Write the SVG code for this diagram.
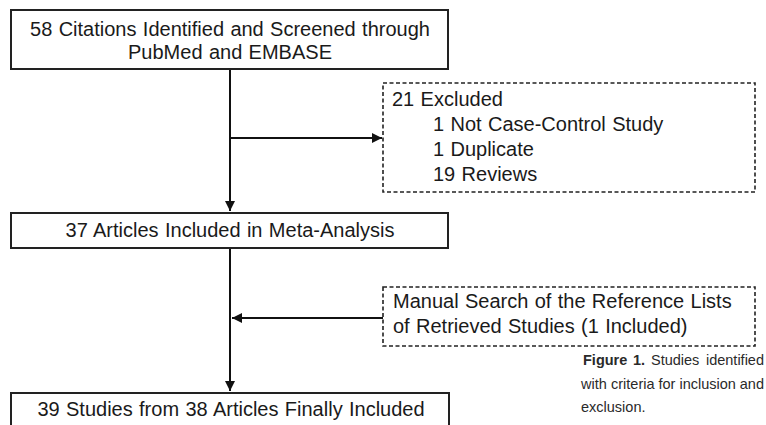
<svg xmlns="http://www.w3.org/2000/svg" width="766" height="425" viewBox="0 0 766 425">
<defs>
<style>
.box{fill:#fff;stroke:#222;stroke-width:2}
.dash{fill:#fff;stroke:#222;stroke-width:1.6;stroke-dasharray:4 2.5}
.t{font-family:"Liberation Sans",Arial,sans-serif;font-size:20px;fill:#1a1a1a;word-spacing:0.8px}
.c{text-anchor:middle}
.cap{font-family:"Liberation Sans",Arial,sans-serif;font-size:14.5px;fill:#2a2a2a}
.b{font-weight:bold}
.e{text-anchor:end}
.line{stroke:#111;stroke-width:2;fill:none}
</style>
<marker id="ah" viewBox="0 0 10 10" refX="10" refY="5" markerWidth="5" markerHeight="5" orient="auto" markerUnits="strokeWidth">
<path d="M0,0 L10,5 L0,10 z" fill="#111"/>
</marker>
</defs>
<rect width="766" height="425" fill="#fff"/>
<g id="connectors">
<line class="line" x1="230" y1="69" x2="230" y2="211" marker-end="url(#ah)"/>
<line class="line" x1="230" y1="138" x2="382" y2="138" marker-end="url(#ah)"/>
<line class="line" x1="230" y1="248" x2="230" y2="391" marker-end="url(#ah)"/>
<line class="line" x1="383" y1="318" x2="232" y2="318" marker-end="url(#ah)"/>
</g>
<g id="n1">
<rect class="box" x="11" y="10" width="437" height="59"/>
<text class="t c" x="230" y="36">58 Citations Identified and Screened through</text>
<text class="t c" x="230" y="59">PubMed and EMBASE</text>
</g>
<g id="n2">
<rect class="dash" x="383" y="83" width="372" height="109"/>
<text class="t" x="392" y="106">21 Excluded</text>
<text class="t" x="433" y="131">1 Not Case-Control Study</text>
<text class="t" x="433" y="156">1 Duplicate</text>
<text class="t" x="433" y="181">19 Reviews</text>
</g>
<g id="n3">
<rect class="box" x="11" y="213" width="437" height="35"/>
<text class="t c" x="230" y="237">37 Articles Included in Meta-Analysis</text>
</g>
<g id="n4">
<rect class="dash" x="383" y="287" width="372" height="59"/>
<text class="t" x="393" y="308">Manual Search of the Reference Lists</text>
<text class="t" x="393" y="333">of Retrieved Studies (1 Included)</text>
</g>
<g id="n5">
<rect class="box" x="11" y="393" width="438" height="40"/>
<text class="t c" x="231" y="416">39 Studies from 38 Articles Finally Included</text>
</g>
<g id="caption">
<text class="cap b" x="583" y="365">Figure</text>
<text class="cap b" x="633" y="365">1.</text>
<text class="cap" x="651" y="365">Studies</text>
<text class="cap e" x="764" y="365">identified</text>
<text class="cap" x="581" y="389">with</text>
<text class="cap" x="611" y="389">criteria</text>
<text class="cap" x="658.5" y="389">for</text>
<text class="cap" x="679.5" y="389">inclusion</text>
<text class="cap e" x="764" y="389">and</text>
<text class="cap" x="581" y="412">exclusion.</text>
</g>
</svg>
